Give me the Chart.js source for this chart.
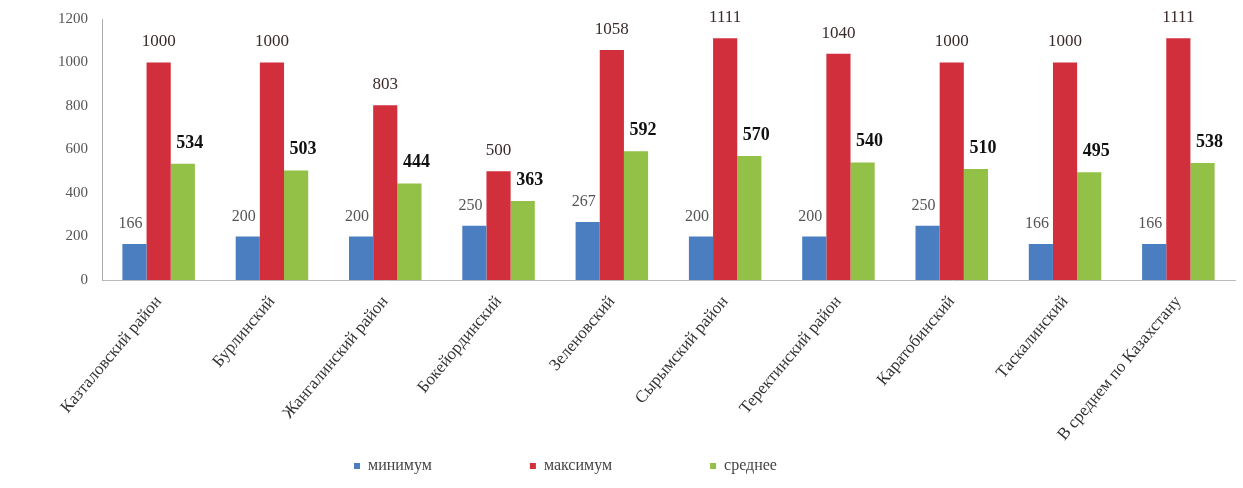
<!DOCTYPE html>
<html>
<head>
<meta charset="utf-8">
<script src="https://cdn.jsdelivr.net/npm/chart.js@4/dist/chart.umd.min.js"></script>
<style>
    html, body { margin: 0; padding: 0; background: #fff; }
    #wrap { width: 1243px; height: 488px; }
</style>
</head>
<body>
<div id="wrap"><canvas id="chart"></canvas></div>
<script>
// Chart data
const categories = [
    'Казталовский район', 'Бурлинский', 'Жангалинский район', 'Бокейординский',
    'Зеленовский', 'Сырымский район', 'Теректинский район', 'Каратобинский',
    'Таскалинский', 'В среднем по Казахстану'
];
const seriesNames = ['минимум', 'максимум', 'среднее'];
const minValues = [166, 200, 200, 250, 267, 200, 200, 250, 166, 166];
const maxValues = [1000, 1000, 803, 500, 1058, 1111, 1040, 1000, 1000, 1111];
const avgValues = [534, 503, 444, 363, 592, 570, 540, 510, 495, 538];
const yTicks = [0, 200, 400, 600, 800, 1000, 1200];

const COLORS = ['#4A7EC0', '#D22F3C', '#93C047'];
const SERIF = '"Liberation Serif", "DejaVu Serif", serif';
// trailing blanks after each legend entry, to spread the entries out like the original
const LEGEND_GAPS = [22, 22, 38];

// Value labels above the bars (no datalabels plugin available offline)
const valueLabels = {
    id: 'valueLabels',
    afterDatasetsDraw(chart) {
        const ctx = chart.ctx;
        const styles = [
            { font: '16px ' + SERIF, color: '#555', dx: -4 },
            { font: '17px ' + SERIF, color: '#3a2a2a', dx: 0 },
            { font: 'bold 18px ' + SERIF, color: '#111', dx: 7 }
        ];
        ctx.save();
        ctx.textAlign = 'center';
        ctx.textBaseline = 'bottom';
        chart.data.datasets.forEach((ds, i) => {
            const meta = chart.getDatasetMeta(i);
            const st = styles[i];
            ctx.font = st.font;
            ctx.fillStyle = st.color;
            meta.data.forEach((bar, j) => {
                ctx.fillText(String(ds.data[j]), bar.x + st.dx, bar.y - 12);
            });
        });
        ctx.restore();
    }
};

new Chart(document.getElementById('chart'), {
    type: 'bar',
    data: {
        labels: categories,
        datasets: [
            { label: seriesNames[0], data: minValues, backgroundColor: COLORS[0] },
            { label: seriesNames[1], data: maxValues, backgroundColor: COLORS[1] },
            { label: seriesNames[2], data: avgValues, backgroundColor: COLORS[2] }
        ]
    },
    options: {
        responsive: true,
        maintainAspectRatio: false,
        animation: false,
        layout: { padding: { left: 48, right: 8, top: 10, bottom: 4 } },
        datasets: { bar: { barPercentage: 1.0, categoryPercentage: 0.64 } },
        plugins: {
            legend: {
                position: 'bottom',
                labels: {
                    font: { family: SERIF, size: 16 },
                    color: '#444',
                    boxWidth: 6,
                    boxHeight: 6,
                    padding: 10,
                    generateLabels(chart) {
                        const items = Chart.defaults.plugins.legend.labels.generateLabels(chart);
                        items.forEach((it, i) => { it.text += '\u00A0'.repeat(LEGEND_GAPS[i]); });
                        return items;
                    }
                }
            },
            tooltip: { enabled: false }
        },
        scales: {
            x: {
                grid: { display: false, drawTicks: false },
                border: { color: '#bbb' },
                afterFit: scale => { scale.height = 168; },
                ticks: {
                    font: { family: SERIF, size: 17 },
                    color: '#333',
                    maxRotation: 50,
                    minRotation: 50,
                    padding: 12
                }
            },
            y: {
                min: 0,
                max: 1200,
                afterBuildTicks: axis => { axis.ticks = yTicks.map(v => ({ value: v })); },
                grid: { display: false, drawTicks: true, tickLength: 4 },
                border: { color: '#aaa' },
                ticks: {
                    font: { family: SERIF, size: 15 },
                    color: '#555',
                    padding: 10,
                    callback: v => String(v)
                }
            }
        }
    },
    plugins: [valueLabels]
});
</script>
</body>
</html>
